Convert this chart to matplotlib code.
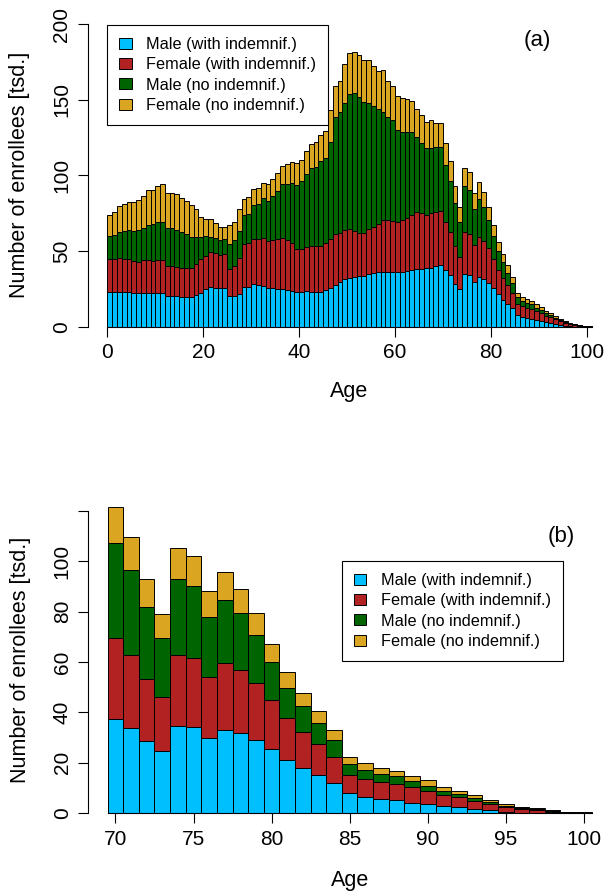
import matplotlib
matplotlib.use("Agg")
import matplotlib.pyplot as plt
import numpy as np

plt.rcParams['font.family'] = ['Liberation Sans', 'DejaVu Sans']

# enrollees by age, thousands
ages = np.arange(0, 101)

male_ind = [22.7, 22.7, 23.2, 23.2, 22.7, 22.0, 22.0, 22.0, 22.5, 22.0,
            22.5, 22.5, 20.5, 20.5, 20.3, 19.8, 19.4, 19.4, 21.0, 22.0,
            24.8, 26.0, 25.6, 25.3, 25.3, 20.3, 20.3, 21.6, 26.0, 26.4,
            28.0, 27.6, 26.9, 25.3, 25.3, 24.9, 24.7, 24.2, 23.8, 23.2,
            23.2, 23.4, 23.2, 23.0, 23.0, 24.3, 25.8, 27.8, 29.5, 31.5,
            32.0, 33.1, 33.5, 33.5, 34.9, 35.3, 36.1, 36.4, 36.4, 36.4,
            36.4, 36.4, 36.8, 37.5, 37.9, 37.9, 38.6, 39.0, 40.1, 40.5,
            37.3, 34.0, 28.5, 24.8, 34.6, 34.1, 29.7, 33.0, 31.7, 29.1,
            25.4, 21.3, 17.8, 15.1, 12.2, 7.9, 6.6, 5.8, 5.3, 4.2,
            3.8, 3.0, 2.4, 1.6, 1.1, 0.4, 0.3, 0.1, 0.05, 0.02, 0.01]
female_ind = [21.8, 21.8, 22.4, 21.8, 21.8, 21.4, 20.7, 22.1, 21.6, 21.4,
              21.6, 21.6, 19.8, 19.8, 19.4, 18.8, 19.2, 19.2, 20.4, 22.7,
              21.9, 23.6, 22.9, 22.0, 22.7, 17.6, 20.0, 24.0, 28.5, 28.7,
              29.7, 30.1, 31.9, 31.3, 32.0, 33.1, 33.7, 33.1, 31.7, 27.9,
              27.9, 29.5, 30.1, 30.3, 30.3, 30.8, 31.9, 33.7, 32.2, 32.4,
              32.3, 30.1, 28.2, 28.2, 29.4, 30.8, 31.8, 34.1, 34.1, 33.4,
              32.8, 34.1, 34.8, 36.3, 38.2, 37.4, 35.2, 36.3, 36.0, 36.0,
              32.1, 28.8, 24.8, 21.2, 28.0, 27.4, 24.2, 26.5, 25.1, 22.7,
              19.4, 16.4, 14.3, 12.5, 10.3, 7.2, 6.9, 6.5, 6.2, 6.1,
              5.2, 4.3, 3.9, 3.3, 2.5, 2.2, 1.4, 1.0, 0.45, 0.38, 0.09]
male_no = [15.4, 16.1, 17.1, 18.2, 19.4, 19.8, 21.2, 20.9, 23.1, 24.2,
           25.3, 25.3, 24.7, 24.7, 24.2, 24.2, 22.4, 20.9, 18.1, 14.3,
           13.2, 9.9, 10.3, 10.0, 9.7, 16.5, 17.0, 17.8, 19.3, 19.1,
           22.7, 23.4, 26.0, 26.7, 29.1, 31.6, 35.9, 37.0, 39.7, 42.5,
           45.2, 48.0, 51.3, 52.4, 56.4, 56.2, 64.5, 77.3, 80.4, 84.1,
           89.5, 91.4, 90.3, 87.0, 83.7, 79.7, 75.7, 71.6, 68.3, 66.8,
           60.8, 58.4, 56.8, 55.1, 49.5, 46.3, 44.0, 42.5, 42.8, 42.4,
           37.7, 33.7, 28.4, 23.4, 30.2, 28.6, 23.9, 25.1, 22.5, 18.9,
           15.1, 12.1, 10.5, 8.1, 6.6, 4.3, 3.7, 3.2, 3.2, 2.3,
           2.0, 1.6, 1.2, 1.0, 0.8, 0.4, 0.4, 0.4, 0.3, 0.1, 0.2]
female_no = [13.9, 15.5, 17.3, 17.6, 18.7, 19.4, 19.8, 21.4, 23.1, 22.7,
             23.6, 24.7, 23.6, 23.6, 23.8, 22.0, 22.0, 20.9, 18.3, 13.7,
             11.3, 11.7, 9.9, 8.4, 8.0, 12.8, 12.1, 14.1, 10.4, 11.7,
             10.4, 10.3, 10.4, 11.0, 11.0, 11.7, 12.1, 13.0, 13.8, 14.4,
             13.9, 15.0, 16.4, 16.2, 16.8, 17.8, 21.0, 20.0, 20.3, 25.6,
             26.8, 27.1, 27.5, 27.5, 28.2, 26.5, 25.6, 27.5, 23.8, 22.5,
             22.4, 22.0, 21.8, 20.4, 18.0, 18.3, 17.7, 18.8, 15.5, 15.5,
             14.2, 12.9, 11.1, 9.5, 12.3, 11.9, 10.5, 11.0, 9.8, 8.6,
             7.1, 6.1, 5.2, 4.9, 3.8, 2.8, 2.6, 2.5, 2.2, 2.1,
             2.0, 1.7, 1.5, 1.2, 0.9, 0.8, 0.5, 0.4, 0.3, 0.2, 0.1]

labels = ['Male (with indemnif.)', 'Female (with indemnif.)',
          'Male (no indemnif.)', 'Female (no indemnif.)']
colors = ['#00BFFF', '#B22222', '#006400', '#DAA520']

W, H = 605, 894
fig = plt.figure(figsize=(W / 100, H / 100), dpi=100)


def px_axes(x0, y0, x1, y1):
    return fig.add_axes([x0 / W, 1 - y1 / H, (x1 - x0) / W, (y1 - y0) / H])


def stacked(ax, x, series, align):
    base = np.zeros(len(x))
    for vals, c, lab in zip(series, colors, labels):
        vals = np.asarray(vals)
        ax.bar(x, vals, width=1, bottom=base, color=c, edgecolor='black',
               linewidth=0.7, align=align, label=lab)
        base = base + vals


def style(ax, xb, yb, xticks, yticks, ylabels, ylab_y, xlab_y):
    for s in ['top', 'right']:
        ax.spines[s].set_visible(False)
    ax.spines['bottom'].set_position(('data', 0))
    ax.spines['bottom'].set_bounds(*xb)
    ax.spines['left'].set_bounds(*yb)
    for s in ['bottom', 'left']:
        ax.spines[s].set_linewidth(0.8)
    ax.set_xticks(xticks)
    ax.set_yticks(yticks)
    ax.set_yticklabels(ylabels)
    ax.tick_params(direction='out', length=7.5, width=0.8, labelsize=15, pad=4.5)
    for t in ax.get_yticklabels():
        t.set_rotation(90)
        t.set_va('center')
    ax.set_xlabel('Age', fontsize=15.5)
    ax.set_ylabel('Number of enrollees [tsd.]', fontsize=15.5)
    ax.yaxis.set_label_coords(-0.11, ylab_y)
    ax.xaxis.set_label_coords(0.5, xlab_y)


def add_legend(ax, x, y):
    leg = ax.legend(loc='upper left', bbox_to_anchor=(x / W, 1 - y / H),
                    bbox_transform=fig.transFigure, borderaxespad=0,
                    fontsize=11.7, fancybox=False, edgecolor='black',
                    framealpha=1, handlelength=0.75, handleheight=0.65,
                    handletextpad=0.9, labelspacing=0.32, borderpad=0.75)
    leg.get_frame().set_linewidth(0.8)


# panel (a): all ages
ax1 = px_axes(88, 11.9, 611, 338.8)
stacked(ax1, ages, [male_ind, female_ind, male_no, female_no], 'edge')
ax1.set_xlim(-4.04, 105.04)
ax1.set_ylim(-8, 208)
style(ax1, (0, 101), (0, 200), range(0, 101, 20), range(0, 201, 50),
      [str(v) for v in range(0, 201, 50)], 0.5, -0.129)
add_legend(ax1, 107.3, 25)
ax1.text(89.7, 188.8, '(a)', fontsize=16, ha='center', va='center')

# panel (b): ages 70+
sel = ages >= 70
ax2 = px_axes(88.3, 495, 611, 825.5)
stacked(ax2, ages[sel], [np.asarray(s)[sel] for s in
                         [male_ind, female_ind, male_no, female_no]], 'center')
ax2.set_xlim(68.26, 101.74)
ax2.set_ylim(-4.85, 126.2)
style(ax2, (69.5, 100.5), (0, 120), range(70, 101, 5), range(0, 121, 20),
      ['0', '20', '40', '60', '80', '100', ''], 0.5, -0.1346)
add_legend(ax2, 341.7, 561)
ax2.text(98.58, 109.6, '(b)', fontsize=16, ha='center', va='center')

fig.savefig('out.png', dpi=100)
